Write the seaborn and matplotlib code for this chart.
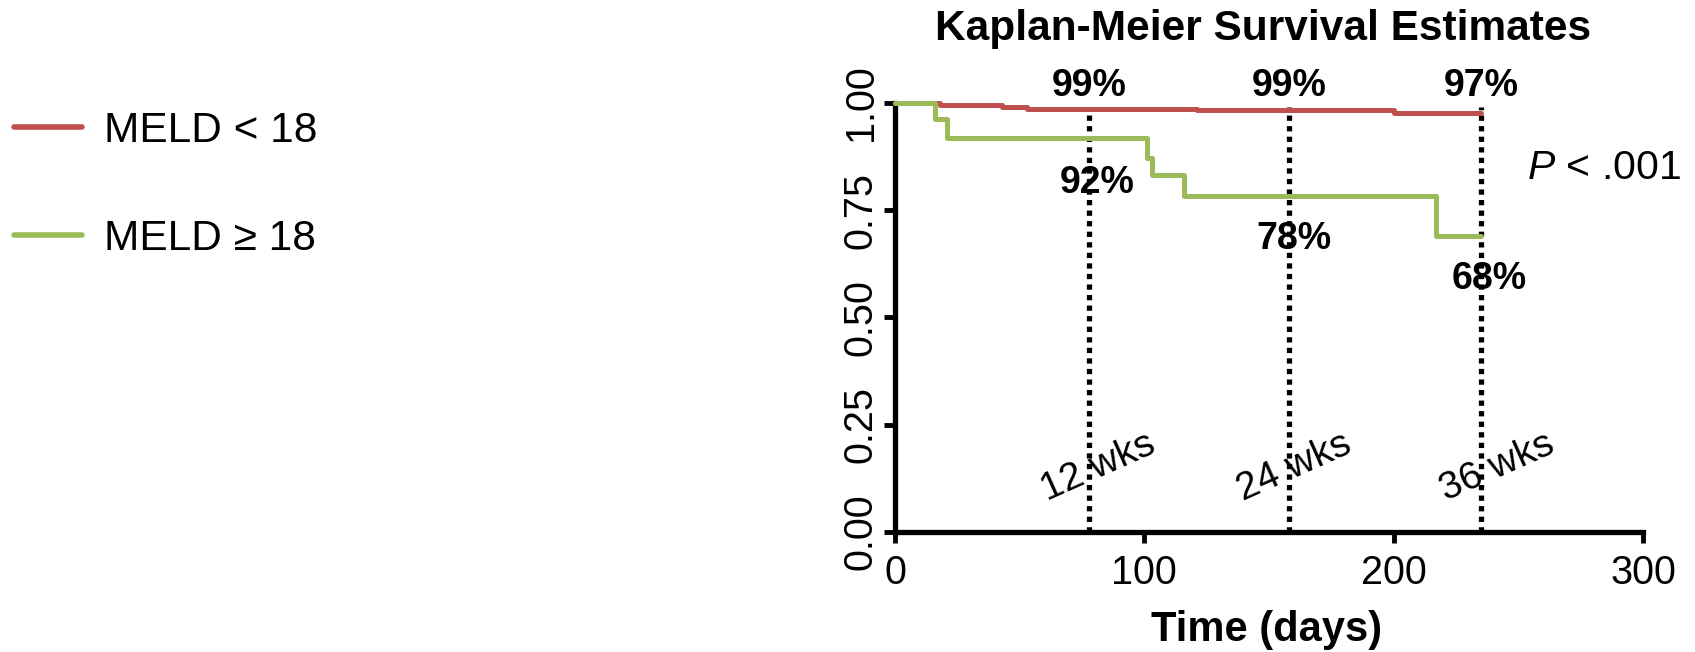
import numpy as np
import pandas as pd
import matplotlib
matplotlib.use("Agg")
import matplotlib.pyplot as plt
import seaborn as sns

sns.set_style("ticks")
plt.rcParams['font.family'] = ['Liberation Sans', 'DejaVu Sans']
plt.rcParams['mathtext.fontset'] = 'custom'
plt.rcParams['mathtext.it'] = 'Liberation Sans:italic'
plt.rcParams['mathtext.rm'] = 'Liberation Sans'
for k in ['text.color', 'axes.labelcolor', 'xtick.color', 'ytick.color', 'axes.edgecolor']:
    plt.rcParams[k] = 'black'

# ---- data ----
groups = ["MELD < 18", "MELD \u2265 18"]
low_time = [0, 18, 43, 53, 121, 200, 235]
low_surv = [1.000, 0.995, 0.990, 0.986, 0.982, 0.975, 0.975]
high_time = [0, 16, 21, 101, 103, 116, 217, 235]
high_surv = [1.000, 0.962, 0.918, 0.872, 0.831, 0.783, 0.690, 0.690]
colors = ["#C0504D", "#9BBB59"]

mark_days = [78, 158, 235]
mark_labels = ["12 wks", "24 wks", "36 wks"]
low_pct = ["99%", "99%", "97%"]
high_pct = ["92%", "78%", "68%"]
low_pct_y = [1.040, 1.040, 1.040]
high_pct_y = [0.813, 0.682, 0.589]
x_ticks = [0, 100, 200, 300]
y_ticks = [0.0, 0.25, 0.50, 0.75, 1.00]
p_text = "$P$ < .001"

df = pd.concat([
    pd.DataFrame({"time": low_time, "surv": low_surv, "group": groups[0]}),
    pd.DataFrame({"time": high_time, "surv": high_surv, "group": groups[1]}),
])

fig = plt.figure(figsize=(16.95, 6.52), dpi=100)
ax = fig.add_axes([0.528, 0.184, 0.4413, 0.6585])

sns.lineplot(data=df, x="time", y="surv", hue="group", palette=colors,
             drawstyle="steps-post", estimator=None, linewidth=3.6,
             ax=ax, legend=True, clip_on=False, zorder=3)

# vertical dotted markers
for d in mark_days:
    ax.plot([d, d], [0, 0.99], color="black", linestyle=(0, (1, 1.0)),
            linewidth=3.8, zorder=2, clip_on=False)

for d, lab in zip([81.4, 160, 241.5], mark_labels):
    ax.text(d, 0.150, lab, rotation=24, ha="center", va="center", fontsize=28)

for d, lab, yv in zip([78, 158, 235], low_pct, low_pct_y):
    ax.text(d, yv, lab, ha="center", va="center", fontsize=27, fontweight="bold")
for d, lab, yv in zip([81, 160, 238.5], high_pct, high_pct_y):
    ax.text(d, yv, lab, ha="center", va="center", fontsize=27, fontweight="bold")

ax.text(315, 0.848, p_text, ha="right", va="center", fontsize=29.5)

ax.set_xlim(0, 300)
ax.set_ylim(0, 1.0)
ax.set_xticks(x_ticks)
ax.set_xticklabels([str(t) for t in x_ticks])
ax.set_yticks(y_ticks)
ax.set_yticklabels([f"{t:.2f}" for t in y_ticks], rotation=90, va="center")
ax.tick_params(axis="both", direction="out", length=8, width=3.5,
               labelsize=28.5, color="black", bottom=True, left=True)
ax.tick_params(axis="x", pad=8)
ax.tick_params(axis="y", pad=3)
for s in ["top", "right"]:
    ax.spines[s].set_visible(False)
for s in ["left", "bottom"]:
    ax.spines[s].set_linewidth(3.8)
    ax.spines[s].set_color("black")
ax.set_xlabel("")
ax.set_ylabel("")

fig.text(1263 / 1695, 1 - 29 / 652, "Kaplan-Meier Survival Estimates",
         ha="center", va="center", fontsize=30.5, fontweight="bold")
fig.text(1267 / 1695, 1 - 630 / 652, "Time (days)",
         ha="center", va="center", fontsize=30, fontweight="bold")

handles, labels = ax.get_legend_handles_labels()
ax.legend_.remove()
leg = fig.legend(handles, labels, loc="upper left",
                 bbox_to_anchor=(14 / 1695, 0.830), frameon=False, fontsize=30.5,
                 handlelength=1.6, handletextpad=0.53, labelspacing=1.61,
                 borderpad=0, borderaxespad=0)
for h in leg.get_lines():
    h.set_linewidth(4)

fig.savefig("out.png", dpi=100)
